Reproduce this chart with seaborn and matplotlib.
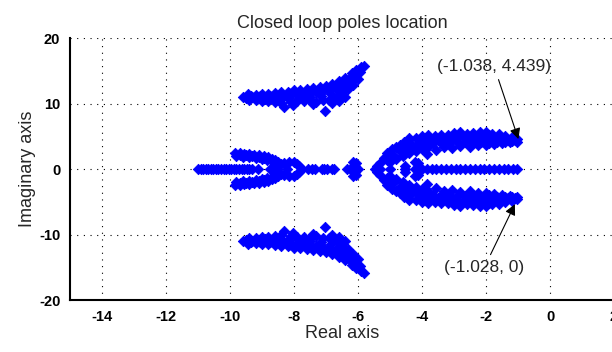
import numpy as np
import pandas as pd
import matplotlib
matplotlib.use("Agg")
import matplotlib.pyplot as plt
import seaborn as sns

# --- pole data (upper half-plane, conjugates mirrored) ---
# outer complex pair band
band_re = [-9.6, -9.45, -9.2, -9.0, -8.8, -8.6, -8.4, -8.2, -8.0, -7.8, -7.6, -7.4, -7.2, -7.0, -6.8, -6.6,
           -6.4, -6.2, -6.05, -5.9, -5.8,
           -9.5, -9.3, -9.1, -8.9, -8.7, -8.5, -8.3, -8.1, -7.9, -7.7, -7.5, -7.3, -7.1, -6.9, -6.7, -6.5,
           -6.3, -6.1, -5.95,
           -9.4, -9.2, -9.0, -8.8, -8.6, -8.4, -8.3, -8.1, -7.9, -7.7, -7.5, -7.3, -7.1, -6.9, -6.7, -6.5,
           -6.3, -6.15, -6.0,
           -8.03, -7.4, -7.03, -6.8, -6.6, -6.4, -6.25, -6.1,
           -9.35, -9.05, -8.75, -8.45, -8.15, -7.85, -7.55, -7.25, -6.95, -6.65, -6.45, -6.25,
           -8.9, -8.55, -8.2, -7.85, -7.5, -7.15, -6.85, -6.6, -6.4]
band_im = [11.0, 11.5, 11.3, 11.5, 11.4, 11.6, 11.7, 11.8, 12.0, 12.1, 12.2, 12.4, 12.5, 12.7, 13.0, 13.4,
           13.9, 14.6, 15.1, 15.6, 15.8,
           10.9, 11.0, 10.9, 11.0, 11.0, 11.1, 11.2, 11.3, 11.4, 11.5, 11.6, 11.7, 11.9, 12.1, 12.4, 12.8,
           13.3, 13.9, 14.8,
           10.5, 10.5, 10.4, 10.4, 10.3, 10.1, 9.4, 10.3, 10.4, 10.4, 10.5, 10.3, 10.5, 10.6, 10.9, 11.5,
           12.2, 12.9, 13.8,
           9.8, 9.9, 8.8, 10.1, 10.4, 11.0, 13.0, 14.2,
           11.2, 11.2, 11.2, 11.4, 11.55, 11.7, 11.9, 12.1, 12.3, 12.7, 13.3, 13.9,
           10.7, 10.7, 10.8, 10.9, 11.0, 11.1, 11.4, 11.9, 12.4]

# fork near the real axis between -10 and -7.8
fork_re = [-9.85, -9.7, -9.55, -9.4, -9.25, -9.1, -8.95, -8.8, -8.7, -8.6, -8.5, -8.4,
           -9.8, -9.6, -9.4, -9.2, -9.0, -8.85,
           -9.7, -9.5, -9.3, -9.1, -8.95, -8.7, -8.55,
           -8.3, -8.15, -8.0, -7.9, -7.85, -8.55, -6.15, -6.05, -6.1]
fork_im = [2.45, 2.45, 2.35, 2.3, 2.2, 2.1, 1.95, 1.8, 1.55, 1.3, 1.05, 0.8,
           2.0, 1.9, 1.85, 1.75, 1.6, 1.4,
           2.15, 2.1, 2.0, 1.85, 1.7, 1.2, 0.9,
           0.9, 1.05, 1.0, 0.8, 0.45, 0.5, 1.1, 0.9, 0.5]

# dominant pair (parabola opening to the right)
par_re = [-5.3, -5.2, -5.1, -4.95, -4.8, -4.7, -4.55, -4.4, -4.2, -4.0, -3.8, -3.6, -3.4, -3.2, -3.0, -2.8,
          -2.6, -2.4, -2.2, -2.0, -1.8, -1.6, -1.4, -1.2, -1.04,
          -5.1, -4.9, -4.7, -4.5, -4.3, -4.1, -3.9, -3.7, -3.5, -3.3, -3.1, -2.9, -2.7, -2.5, -2.3, -2.1,
          -1.9, -1.7, -1.5, -1.3, -1.1,
          -5.0, -4.8, -4.6, -4.4, -4.2, -4.0, -3.8, -3.55, -3.3, -3.05, -2.8, -2.5, -2.25, -2.0, -1.75,
          -1.5, -1.25, -1.038,
          -4.22, -4.12, -3.85, -4.53, -5.4,
          -4.3, -3.9, -3.4, -2.9, -2.4, -1.9, -1.4,
          -4.6, -4.4, -4.2, -4.0, -3.65, -3.15, -2.65, -2.15, -1.65, -1.2,
          -4.45, -3.9, -3.4, -2.9, -2.4, -1.9, -1.4]
par_im = [0.9, 1.7, 2.4, 3.0, 3.3, 3.7, 4.2, 4.7, 4.8, 5.0, 5.2, 5.1, 5.2, 5.2, 5.5, 5.7,
          5.4, 5.5, 5.6, 5.7, 5.4, 5.3, 5.1, 4.9, 4.6,
          1.4, 2.2, 2.8, 3.3, 3.7, 4.0, 4.3, 4.4, 4.5, 4.5, 4.6, 4.7, 4.7, 4.6, 4.7, 4.7,
          4.6, 4.6, 4.5, 4.5, 4.439,
          1.0, 1.6, 2.0, 2.4, 2.7, 3.1, 3.3, 2.9, 3.3, 3.2, 3.5, 3.4, 3.7, 3.7, 3.8,
          3.9, 4.1, 4.2,
          1.1, 0.87, 2.3, 0.4, 0.4,
          3.0, 3.8, 3.9, 4.1, 4.1, 4.0, 4.2,
          2.7, 3.0, 3.3, 3.6, 3.9, 4.0, 4.1, 4.2, 4.2, 4.3,
          4.4, 4.8, 4.9, 5.1, 5.1, 5.2, 4.8]

# real poles
axis_re = [-11.0, -10.92, -10.84, -10.76, -10.68, -10.6, -10.52, -10.44, -10.36, -10.28, -10.2, -10.12,
           -10.04, -9.96, -9.88, -9.8, -9.72, -9.64, -9.56, -9.48, -9.4, -9.32, -9.11, -8.75, -8.54,
           -8.23, -7.76, -7.55, -7.45, -7.35, -7.12, -7.05, -6.98, -6.82, -6.74, -6.35, -6.25, -6.15,
           -6.05, -5.99, -5.47, -5.3, -5.0, -4.53, -4.22, -4.0, -3.85, -3.7, -3.55, -3.4, -3.25, -3.1,
           -2.95, -2.8, -2.65, -2.5, -2.35, -2.2, -2.05, -1.9, -1.75, -1.6, -1.45, -1.3, -1.15, -1.028]

cplx_re = band_re + fork_re + par_re
cplx_im = band_im + fork_im + par_im
poles = pd.DataFrame({
    're': cplx_re + cplx_re + axis_re,
    'im': cplx_im + [-v for v in cplx_im] + [0.0] * len(axis_re),
})

sns.set_style('white')
plt.rcParams['font.family'] = ['Liberation Sans', 'DejaVu Sans']
plt.rcParams['axes.unicode_minus'] = False

fig = plt.figure(figsize=(6.12, 3.52), dpi=100)
ax = fig.add_axes([0.1144, 0.1477, 0.8889, 0.7443])

sns.scatterplot(data=poles, x='re', y='im', marker='D', s=28, color='#0000ff',
                edgecolor='#0000ff', linewidth=0.6, ax=ax, legend=False)

ax.set_xlim(-15, 2)
ax.set_ylim(-20, 20)
ax.set_xticks(np.arange(-14, 3, 2))
ax.set_yticks([-20, -10, 0, 10, 20])
ax.grid(True, color='black', linestyle=(0, (1, 5)), linewidth=0.8)
ax.set_axisbelow(True)
for side in ['top', 'right']:
    ax.spines[side].set_visible(False)
for side in ['left', 'bottom']:
    ax.spines[side].set_linewidth(1.5)
    ax.spines[side].set_color('black')
ax.tick_params(direction='in', length=4, width=1, colors='black', labelsize=10.5, pad=7)
for lab in ax.get_xticklabels() + ax.get_yticklabels():
    lab.set_fontweight('bold')

ax.set_title('Closed loop poles location', fontsize=13, pad=7)
ax.set_xlabel('Real axis', fontsize=13, labelpad=1)
ax.set_ylabel('Imaginary axis', fontsize=13, labelpad=2)

arrow = dict(arrowstyle='-|>', color='black', lw=0.8, mutation_scale=16)
ax.annotate('(-1.038, 4.439)', xy=(-0.96, 4.17), xytext=(-1.75, 15.7), ha='center', va='center',
            fontsize=12.5, arrowprops=arrow)
ax.annotate('(-1.028, 0)', xy=(-1.06, -4.99), xytext=(-2.06, -15.1), ha='center', va='center',
            fontsize=12.5, arrowprops=arrow)

fig.savefig('out.png', dpi=100)
